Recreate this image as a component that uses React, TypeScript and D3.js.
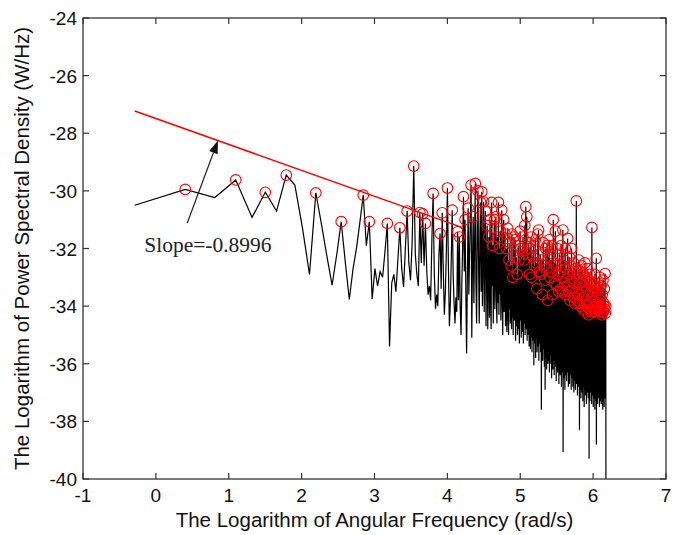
import React from 'react';
import * as d3 from 'd3';

// ---------- data ----------
const xTicks = [-1, 0, 1, 2, 3, 4, 5, 6, 7];
const yTicks = [-40, -38, -36, -34, -32, -30, -28, -26, -24];
const xDomain = [-1, 7];
const yDomain = [-40, -24];

// log of the angular-frequency step: x_k = logFreqStep + ln(k)
const logFreqStep = -0.29;

// log power spectral density, one value per frequency bin k = 1..N
const logPSD = [
  -30.5, -29.95, -30.23, -29.62, -30.92, -30.05, -30.7, -29.45, -29.8, -31.3,
  -32.9, -30.07, -31.2, -32.3, -33.27, -32.2, -31.07, -32.5, -33.77, -32.7,
  -31.96, -31.06, -30.15, -31.9, -31.07, -33.75, -32.7, -33.3, -32.8, -33.0,
  -32.1, -31.13, -35.4, -33.2, -32.9, -33.5, -32.4, -31.28, -32.7, -33.33,
  -32.0, -30.7, -32.5, -33.1, -31.8, -29.14, -32.2, -32.9, -33.3, -30.75,
  -32.5, -30.8, -32.6, -31.13, -32.8, -33.6, -33.3, -33.8, -31.7, -30.09,
  -32.9, -34.1, -33.6, -34.0, -32.2, -31.48, -33.4, -30.76, -32.8, -34.3,
  -33.5, -32.0, -29.9, -32.6, -34.7, -33.9, -32.3, -30.67, -32.9, -33.9,
  -34.6, -33.7, -34.2, -31.42, -33.8, -31.6, -34.0, -35.0, -33.2, -31.9,
  -30.2, -32.8, -31.0, -33.5, -35.64, -33.0, -30.6, -33.6, -32.1, -31.0,
  -29.8, -35.1, -32.4, -30.9, -33.9, -31.8, -29.74, -33.2, -34.6, -31.2,
  -30.0, -32.7, -34.6, -31.5, -30.4, -33.5, -30.03, -34.0, -32.3, -30.38,
  -34.2, -31.8, -30.7, -34.7, -32.6, -31.2, -34.8, -33.0, -31.6, -34.4,
  -31.0, -33.7, -34.8, -30.4, -33.3, -31.9, -34.6, -32.2, -31.0, -34.1,
  -32.5, -30.9, -33.8, -34.6, -31.6, -33.9, -30.4, -34.3, -32.0, -33.6,
  -31.4, -34.5, -33.1, -30.67, -33.9, -35.0, -32.2, -31.0, -34.2, -32.8,
  -31.5, -34.7, -33.0, -32.0, -34.9, -33.6, -31.3, -34.3, -35.0, -32.4,
  -34.1, -31.8, -34.6, -33.2, -32.6, -34.8, -31.5, -34.4, -33.0, -35.0,
  -32.4, -31.6, -34.5, -33.3, -31.7, -35.2, -33.8, -32.3, -34.7, -32.9,
  -35.0, -33.5, -31.9, -34.8, -32.4, -35.3, -33.1, -31.4, -34.5, -32.0,
  -35.1, -33.4, -32.1, -34.9, -33.0, -31.6, -35.3, -33.8, -32.4, -34.6,
  -31.2, -35.0, -33.4, -30.55, -34.8, -32.0, -30.9, -35.2, -33.6, -32.2,
  -35.0, -33.3, -31.8, -35.4, -32.9, -34.7, -32.0, -35.5, -33.6, -31.6,
  -35.1, -33.0, -35.6, -34.0, -32.3, -35.2, -33.5, -31.9, -36.05, -34.3,
  -32.6, -35.3, -33.2, -31.7, -35.8, -34.0, -32.5, -35.1, -33.4, -35.6,
  -34.2, -31.5, -35.4, -33.0, -31.36, -35.9, -34.1, -32.8, -35.3, -33.7,
  -32.2, -35.6, -34.4, -32.9, -37.6, -34.8, -32.4, -35.7, -33.6, -35.9,
  -34.5, -31.8, -35.5, -33.3, -32.6, -36.1, -34.7, -33.1, -36.9, -35.0,
  -32.0, -35.8, -34.0, -32.7, -36.2, -34.5, -31.9, -35.6, -33.8, -36.0,
  -34.6, -32.3, -35.9, -33.5, -31.7, -36.3, -34.9, -33.0, -35.7, -34.2,
  -32.4, -36.0, -34.6, -32.8, -36.5, -35.0, -31.9, -35.8, -33.6, -36.2,
  -34.4, -31.0, -35.9, -33.9, -32.5, -36.4, -34.8, -33.2, -35.9, -34.3,
  -31.4, -36.1, -34.7, -32.6, -36.6, -35.0, -33.3, -35.8, -34.2, -32.0,
  -36.3, -34.6, -32.9, -36.0, -34.4, -33.5, -36.7, -35.2, -32.2, -36.1,
  -34.5, -32.8, -36.4, -34.9, -33.4, -36.2, -34.3, -31.9, -36.8, -35.1,
  -32.6, -36.3, -33.5, -35.9, -34.6, -31.36, -39.06, -35.4, -33.0, -36.5,
  -34.8, -32.4, -36.2, -34.0, -33.2, -36.9, -35.3, -32.0, -36.4, -34.6,
  -33.6, -36.1, -34.9, -32.7, -36.6, -35.2, -33.3, -36.0, -34.5, -31.65,
  -36.3, -34.8, -32.9, -36.8, -35.1, -33.5, -36.2, -34.4, -32.3, -36.7,
  -35.0, -33.8, -36.4, -34.7, -32.6, -36.1, -35.3, -33.1, -36.9, -35.0,
  -32.0, -36.5, -34.6, -33.4, -36.2, -35.1, -32.8, -36.8, -34.9, -33.7,
  -36.4, -35.2, -32.5, -37.0, -35.4, -33.2, -36.3, -34.7, -33.9, -36.6,
  -35.0, -32.7, -36.9, -35.3, -33.5, -36.2, -34.5, -30.35, -36.7, -35.1,
  -33.0, -36.4, -34.8, -33.8, -37.1, -35.5, -32.9, -36.5, -35.0, -33.6,
  -36.8, -35.2, -32.4, -36.3, -34.7, -33.9, -38.3, -35.6, -33.2, -36.9,
  -35.3, -32.8, -36.6, -35.0, -34.0, -37.2, -35.7, -33.4, -36.7, -35.1,
  -32.6, -37.0, -35.4, -33.7, -36.5, -35.0, -33.1, -37.3, -35.8, -34.1,
  -36.8, -35.2, -32.9, -36.4, -34.9, -33.5, -37.5, -35.9, -33.9, -36.7,
  -35.1, -32.5, -36.9, -35.4, -33.3, -37.1, -35.6, -34.2, -36.6, -35.0,
  -33.0, -37.4, -35.8, -33.8, -36.8, -35.3, -32.7, -37.0, -35.5, -34.0,
  -36.7, -35.2, -33.4, -37.2, -35.7, -34.3, -36.9, -35.4, -33.1, -39.3,
  -35.9, -33.9, -36.6, -35.1, -32.9, -37.3, -35.8, -34.1, -36.8, -35.3,
  -33.5, -37.0, -35.6, -34.2, -36.7, -35.2, -33.2, -37.4, -35.9, -31.27,
  -36.9, -35.4, -34.0, -37.1, -35.7, -33.6, -36.6, -35.1, -34.2, -37.5,
  -35.8, -33.3, -36.9, -35.5, -34.1, -37.2, -35.9, -33.8, -36.8, -35.3,
  -32.9, -37.6, -36.0, -34.2, -37.0, -35.6, -33.5, -36.7, -35.2, -34.0,
  -37.3, -35.8, -32.34, -38.8, -36.1, -33.7, -37.0, -35.5, -34.1, -36.8,
  -35.3, -33.4, -37.4, -35.9, -34.0, -36.9, -35.4, -33.2, -37.2, -35.7,
  -34.0, -37.0, -35.6, -33.6, -36.7, -35.2, -34.1, -37.5, -36.0, -33.0,
  -36.9, -35.5, -34.1, -37.3, -35.9, -33.8, -36.8, -35.4, -34.2, -37.1,
  -35.7, -33.3, -37.4, -36.0, -34.0, -36.9, -35.5, -34.3, -37.2, -35.8,
  -33.6, -36.8, -35.3, -34.2, -37.6, -36.1, -33.1, -37.0, -35.6, -34.2,
  -37.3, -35.9, -33.9, -36.9, -35.4, -34.0, -37.5, -36.0, -33.4, -37.1,
  -35.7, -34.1, -36.8, -35.2, -32.87, -37.2, -35.8, -34.25, -37.0, -35.6,
  -34.0, -36.5, -41.5,
];

// fitted power-law line
const fitSlope = -0.8996;
const fitIntercept = -27.49;
const fitRange = [-0.29, 4.2];
// peaks marked: local maxima lying within this band below the fitted line
const peakBand = 2.3;

// annotation (data coordinates)
const annotationText = 'Slope=-0.8996';
const annotationPos = [-0.16, -32.13];
const arrowTail = [0.43, -31.12];
const arrowTip = [0.852, -28.25];

const xLabel = 'The Logarithm of Angular Frequency (rad/s)';
const yLabel = 'The Logarithm of Power Spectral Density (W/Hz)';

export default function App() {
  const W = 691;
  const H = 535;
  const left = 83, right = 666, top = 18, bottom = 479;
  const x = d3.scaleLinear().domain(xDomain).range([left, right]);
  const y = d3.scaleLinear().domain(yDomain).range([bottom, top]);

  const pts: [number, number][] = logPSD.map((v, i) => [logFreqStep + Math.log(i + 1), v]);
  const line = d3
    .line<[number, number]>()
    .x((d) => x(d[0]))
    .y((d) => y(d[1]));

  const fit = (t: number) => fitIntercept + fitSlope * t;
  const peaks = pts.filter(
    (p, i) =>
      i > 0 &&
      i < pts.length - 1 &&
      p[1] > pts[i - 1][1] &&
      p[1] > pts[i + 1][1] &&
      p[1] > fit(p[0]) - peakBand
  );
  const fitPts: [number, number][] = fitRange.map((t) => [t, fit(t)]);

  // arrow head
  const tx = x(arrowTail[0]), ty = y(arrowTail[1]);
  const hx = x(arrowTip[0]), hy = y(arrowTip[1]);
  const dx = hx - tx, dy = hy - ty;
  const len = Math.hypot(dx, dy);
  const ux = dx / len, uy = dy / len;
  const headLen = 13, headW = 4.5;
  const bx = hx - ux * headLen, by = hy - uy * headLen;
  const head = `M${hx},${hy}L${bx - uy * headW},${by + ux * headW}L${bx + uy * headW},${by - ux * headW}Z`;

  const tickLen = 6;
  const font = "'Liberation Sans', Arial, sans-serif";

  return (
    <svg
      width={W}
      height={H}
      style={{ position: 'absolute', left: 0, top: 0, background: '#fff' }}
      xmlns="http://www.w3.org/2000/svg"
    >
      <defs>
        <clipPath id="plotClip">
          <rect x={left} y={top} width={right - left} height={bottom - top} />
        </clipPath>
      </defs>
      <rect x={0} y={0} width={W} height={H} fill="#fff" />

      <g clipPath="url(#plotClip)">
        <path d={line(pts) || ''} fill="none" stroke="#000" strokeWidth={1.2} strokeLinejoin="miter" />
        <path d={line(fitPts) || ''} fill="none" stroke="#ff0000" strokeWidth={1.5} />
        {peaks.map((p, i) => (
          <circle key={i} cx={x(p[0])} cy={y(p[1])} r={5.3} fill="none" stroke="#ff0000" strokeWidth={1.1} />
        ))}
      </g>

      {/* arrow */}
      <line x1={tx} y1={ty} x2={bx} y2={by} stroke="#222" strokeWidth={1.3} />
      <path d={head} fill="#111" />
      <text
        x={x(annotationPos[0])}
        y={y(annotationPos[1])}
        fontFamily="'Liberation Serif', 'Times New Roman', serif"
        fontSize={21.5}
        fill="#222"
      >
        {annotationText}
      </text>

      {/* axes box */}
      <rect x={left} y={top} width={right - left} height={bottom - top} fill="none" stroke="#333" strokeWidth={1.3} />
      {xTicks.map((t) => (
        <g key={'x' + t}>
          <line x1={x(t)} x2={x(t)} y1={bottom} y2={bottom - tickLen} stroke="#333" strokeWidth={1.2} />
          <line x1={x(t)} x2={x(t)} y1={top} y2={top + tickLen} stroke="#333" strokeWidth={1.2} />
          <text x={x(t)} y={502} textAnchor="middle" fontFamily={font} fontSize={19} fill="#111">
            {t}
          </text>
        </g>
      ))}
      {yTicks.map((t) => (
        <g key={'y' + t}>
          <line x1={left} x2={left + tickLen} y1={y(t)} y2={y(t)} stroke="#333" strokeWidth={1.2} />
          <line x1={right} x2={right - tickLen} y1={y(t)} y2={y(t)} stroke="#333" strokeWidth={1.2} />
          <text x={77} y={y(t) + 7} textAnchor="end" fontFamily={font} fontSize={19} fill="#111">
            {t}
          </text>
        </g>
      ))}

      <text x={(left + right) / 2} y={527} textAnchor="middle" fontFamily={font} fontSize={20.5} fill="#111">
        {xLabel}
      </text>
      <text
        transform={`translate(29, ${(top + bottom) / 2}) rotate(-90)`}
        textAnchor="middle"
        fontFamily={font}
        fontSize={20.5}
        fill="#111"
      >
        {yLabel}
      </text>
    </svg>
  );
}
